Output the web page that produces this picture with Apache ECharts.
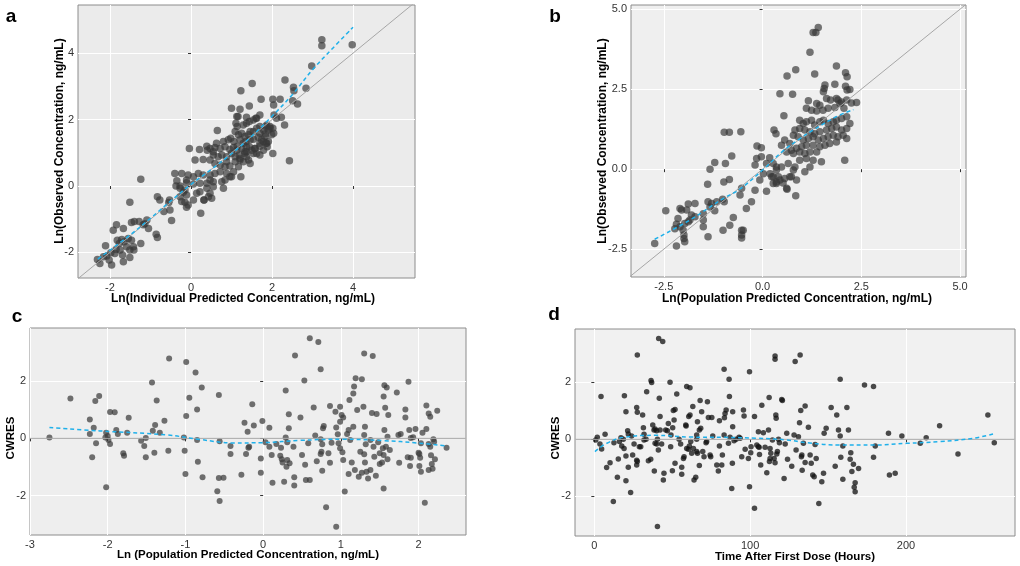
<!DOCTYPE html>
<html><head><meta charset="utf-8">
<script src="https://cdn.jsdelivr.net/npm/echarts@6/dist/echarts.min.js"></script>
<style>html,body{margin:0;padding:0;background:#fff}#c{width:1020px;height:566px}</style>
</head><body><div id="c"></div>
<script>
// ---------- data ----------
const aPoints = [
[3.23,4.40],[3.23,4.22],[3.98,4.25],[2.98,3.61],[2.32,3.19],[1.51,3.09],[2.53,2.97],[2.54,2.87],[2.84,2.94],[1.23,2.87],
[1.73,2.61],[2.02,2.61],[2.20,2.61],[2.51,2.57],[2.63,2.47],[2.04,2.44],[1.00,2.34],[1.21,2.31],[1.44,2.41],[0.65,1.67],
[1.16,2.09],[1.37,2.07],[1.60,2.04],[1.70,2.14],[2.05,2.14],[2.11,2.04],[2.23,2.07],[2.31,1.84],[2.02,1.74],[2.04,1.59],
[2.43,0.76],[2.02,0.98],[1.23,0.28],
[1.13,2.09],[1.11,1.89],[1.14,1.79],[1.29,1.84],[1.37,1.89],[1.44,1.94],[1.54,1.99],[1.62,2.04],
[1.09,1.64],[1.17,1.54],[1.25,1.59],[1.33,1.49],[1.42,1.54],[1.46,1.64],[1.54,1.64],[1.62,1.74],[1.70,1.79],[1.79,1.69],[1.85,1.79],[1.95,1.74],
[0.92,1.39],[0.98,1.44],[1.06,1.34],[1.21,1.39],[1.29,1.29],[1.36,1.34],[1.46,1.39],[1.54,1.41],[1.66,1.47],[1.74,1.39],[1.83,1.49],[1.91,1.34],[1.99,1.54],
[-0.04,1.13],[0.21,1.10],[0.39,1.20],[0.40,1.08],[0.55,1.03],[0.47,1.13],[0.59,1.16],[0.72,1.13],[0.84,1.18],[0.96,1.10],[1.05,1.16],[1.14,1.20],[1.25,1.13],[1.37,1.18],[1.50,1.08],[1.58,1.13],[1.70,1.20],[1.85,1.29],[1.88,1.18],
[0.76,0.93],[0.88,0.88],[1.00,0.98],[1.09,0.88],[1.19,0.93],[1.33,0.98],[1.21,0.83],[1.09,0.73],[0.88,0.73],[0.67,0.88],[0.55,0.93],[0.63,1.29],[0.80,1.34],[1.13,1.08],[1.37,1.03],[1.62,0.98],[1.70,0.93],[1.79,1.08],
[0.10,0.78],[0.30,0.80],[0.47,0.78],[0.59,0.68],[0.72,0.63],[0.84,0.58],[0.96,0.60],[1.17,0.58],[1.29,0.73],[1.42,0.78],[1.46,0.68],[1.05,0.43],
[-0.40,0.38],[-0.23,0.38],[-0.07,0.33],[0.06,0.28],[0.18,0.38],[0.30,0.33],[0.47,0.33],[0.59,0.38],[0.72,0.43],[0.88,0.38],[0.96,0.28],[0.84,0.18],[0.55,0.13],[0.39,0.08],[0.22,0.08],[0.06,0.06],[-0.11,0.10],[-0.27,0.00],
[-1.24,0.20],[-1.51,-0.49],[-0.35,0.16],[-0.11,0.18],[-0.37,0.00],[-0.27,-0.07],[-0.19,-0.19],[-0.11,-0.27],[-0.23,-0.47],[-0.15,-0.49],[-0.07,-0.57],[-0.11,-0.64],[0.06,-0.42],[0.24,-0.82],[0.32,-0.42],[0.43,-0.32],[0.47,-0.22],[0.55,-0.02],
[-0.48,-1.04],[-0.83,-0.32],[-0.77,-0.42],[-0.52,-0.72],[-0.67,-0.77],[-0.86,-1.45],[-0.83,-1.55],[-1.05,-1.28],[-1.18,-1.17],[-1.28,-1.07],[-1.40,-1.07],[-1.47,-1.10],[-1.09,-1.02],[-1.14,-1.14],
[-1.67,-1.28],[-1.92,-1.33],[-1.84,-1.17],[-1.24,-1.73],[-1.47,-1.63],[-1.42,-1.83],[-1.51,-1.93],[-1.41,-1.93],[-1.51,-2.15],[-1.69,-2.08],[-1.67,-2.28],[-1.96,-2.38],[-2.11,-1.80],[-2.31,-2.21],[-2.25,-2.33],[-2.08,-2.11],[-1.98,-2.01],[-1.85,-1.91],[-1.82,-1.63],[-1.77,-1.73],[-1.71,-1.61],[-1.65,-1.68],[-1.55,-1.58],[-2.16,-2.13],[-2.02,-2.23],[-1.88,-2.03],[-1.75,-1.93],[-1.59,-1.83],
[-0.55,-0.50],[-0.53,-0.42],[-0.27,-0.32],[-0.15,-0.12],[0.14,-0.22],[0.22,-0.17],[0.39,-0.07],[0.32,-0.42],[0.51,-0.37],[0.47,0.18],[0.80,-0.07],[0.76,0.13],[1.00,0.28],
[1.21,0.78],[1.37,0.88],[1.54,0.98],[1.33,1.03],[1.44,1.18],[1.58,1.13],[1.70,1.29],[1.79,1.34],[1.87,1.29],[1.70,1.59],[1.83,1.57],[1.91,1.69],[1.87,1.84],[1.95,1.79]
];
const aLowess = [[-2.3,-2.2],[-1.5,-1.47],[-1,-0.97],[-0.5,-0.45],[0,0.05],[0.5,0.5],[1,0.97],[1.5,1.5],[2,2.1],[2.5,2.75],[3,3.5],[3.5,4.15],[4,4.78]];
const aIdentity = [[-2.79,-2.79],[5.53,5.53]];
const aXTicks = [-2,0,2,4];
const aYTicks = [-2,0,2,4];

const bPoints = [
[1.41,4.43],[1.28,4.27],[1.35,4.27],[1.20,3.65],[1.32,2.97],[0.84,3.11],[1.87,3.22],[0.62,2.91],[2.10,3.01],[2.14,2.89],[0.44,2.36],[0.76,2.34],
[1.58,2.63],[1.56,2.52],[1.83,2.65],[2.10,2.59],[2.21,2.49],[2.14,2.47],[1.54,2.42],[1.16,2.14],[1.37,2.05],[1.45,2.00],
[1.62,2.21],[1.72,2.16],[1.87,2.21],[2.00,2.10],[2.13,2.16],[2.25,2.07],[2.38,2.08],[0.54,1.67],[2.08,0.28],[0.84,-0.83],[0.62,-0.63],[0.10,-0.69],[0.35,-0.40],
[0.27,-0.24],[0.19,-0.14],[0.44,-0.34],[0.52,-0.43],[0.69,-0.24],[0.78,-0.03],[0.35,0.07],[0.27,0.18],[0.10,0.18],[0.02,-0.14],[-0.07,-0.34],[-0.19,0.13],[-0.15,0.33],[-0.03,0.39],[-0.14,0.72],[-0.03,0.67],
[-0.19,-0.66],[-0.28,-1.02],[-0.41,-1.23],[-0.53,-0.60],[-0.57,-0.81],[-0.53,-1.91],[-0.53,-2.06],[-0.53,-2.15],[-0.49,-1.91],[-0.55,1.17],[-0.97,1.15],[-0.84,1.15],[-0.78,0.41],[-0.94,0.18],[-1.21,0.21],[-1.33,0.00],
[-0.98,-0.40],[-0.84,-0.32],[-1.39,-0.47],[-1.01,-0.94],[-0.97,-1.02],[-1.16,-1.02],[-1.38,-1.02],[-1.29,-1.07],[-1.33,-1.18],[-1.21,-1.30],[-0.74,-1.51],[-0.83,-1.75],[-1.00,-1.91],[-1.38,-2.11],[-1.50,-1.39],[-1.50,-1.59],[-1.50,-1.80],
[-1.71,-1.07],[-1.88,-1.09],[-2.09,-1.23],[-2.05,-1.28],[-1.92,-1.28],[-2.45,-1.30],[-2.14,-1.54],[-2.18,-1.72],[-2.22,-1.86],[-2.09,-1.80],[-1.97,-1.70],[-1.84,-1.59],[-1.71,-1.49],[-1.80,-1.43],[-1.88,-1.64],
[-2.01,-1.91],[-1.99,-2.06],[-1.99,-2.17],[-1.97,-2.27],[-2.18,-2.40],[-2.73,-2.32],
[1.91,2.16],[1.96,2.05],[2.06,1.90],[1.83,1.93],[1.66,1.90],[1.53,1.84],[1.37,1.82],[1.24,1.84],[1.11,1.90],[0.29,1.22],[0.34,1.11],[0.18,0.36],
[0.94,1.53],[1.03,1.43],[1.11,1.48],[1.24,1.53],[1.32,1.38],[1.45,1.48],[1.54,1.53],[1.66,1.43],[1.79,1.48],[1.87,1.53],[2.00,1.58],[2.13,1.64],[2.21,1.43],[2.13,1.27],[2.00,1.22],[1.87,1.32],[1.75,1.27],[1.62,1.22],[1.45,1.17],[1.32,1.11],[1.20,1.17],[1.07,1.22],[0.94,1.27],[0.82,1.22],
[0.78,1.06],[0.90,1.01],[1.03,0.91],[1.16,0.96],[1.28,1.01],[1.41,0.91],[1.54,0.96],[1.66,1.01],[1.79,1.06],[1.91,1.01],[2.04,1.06],[2.13,0.96],[1.87,0.85],[1.70,0.80],[1.58,0.75],[1.45,0.70],[1.28,0.75],[1.11,0.75],[0.99,0.70],[0.86,0.65],[0.73,0.59],[0.69,0.80],[0.56,0.91],[0.48,0.75],
[0.61,0.54],[0.78,0.49],[0.94,0.54],[1.07,0.49],[1.20,0.54],[1.37,0.54],[1.49,0.23],[1.28,0.28],[1.11,0.33],[0.94,0.28],[0.82,0.07],[0.65,0.18],[0.48,0.07],[0.35,-0.03],[0.40,-0.24],[0.56,-0.29],[0.73,-0.24],[0.86,-0.34],[0.35,-0.45],[0.61,-0.60],[1.07,-0.08],[1.20,0.07],[0.23,-0.24],[0.27,-0.45]
];
const bLowess = [[-2.73,-2.19],[-1.84,-1.59],[-1.0,-0.92],[-0.57,-0.62],[0,-0.03],[0.5,0.55],[0.94,0.95],[1.28,1.22],[1.87,1.64],[2.3,1.86]];
const bIdentity = [[-3.37,-3.37],[5.15,5.15]];
const bXTicks = [-2.5,0,2.5,5];
const bYTicks = [-2.5,0,2.5,5];

const cPoints = [
[-2.75,0.03],[-2.48,1.39],[-2.23,0.66],[-2.18,0.37],[-2.16,1.31],[-2.11,1.48],[-2.23,0.15],[-2.15,-0.17],[-2.20,-0.66],[-2.02,-1.71],
[-2.02,0.20],[-2.00,0.08],[-1.99,-0.06],[-1.97,-0.20],[-2.03,0.03],[-1.97,0.92],[-1.91,0.91],[-1.89,0.29],[-1.87,0.15],[-1.73,0.72],[-1.75,0.20],[-1.80,-0.52],[-1.79,-0.61],
[-1.57,-0.08],[-1.53,-0.27],[-1.51,-0.66],[-1.51,0.01],[-1.43,1.95],[-1.37,1.32],[-1.42,0.27],[-1.39,0.47],[-1.33,0.20],[-1.40,-0.50],[-1.27,0.62],[-1.21,2.79],[-1.22,-0.43],
[-0.99,2.67],[-0.95,1.42],[-0.99,0.78],[-1.02,0.03],[-1.01,-0.43],[-1.00,-1.25],[-0.87,2.30],[-0.85,1.01],[-0.85,-0.06],[-0.84,-0.82],[-0.79,1.78],[-0.78,-1.36],
[-0.57,1.52],[-0.56,-0.10],[-0.59,-1.85],[-0.56,-2.19],[-0.57,-1.39],[-0.51,-1.38],[-0.42,-0.27],[-0.42,-0.55],[-0.28,-1.27],[-0.24,0.55],[-0.22,-0.55],[-0.20,0.23],[-0.19,-0.33],[-0.18,-0.29],[-0.14,1.19],[-0.12,0.45],
[-0.03,-1.20],[-0.03,-0.70],[-0.01,0.61],[0.03,-0.14],[0.08,0.37],[0.08,-0.29],[0.12,-1.55],[0.11,-0.58],[0.17,-0.20],[0.23,-0.33],[0.22,-0.61],[0.24,-0.73],[0.25,-0.84],[0.27,-1.52],[0.29,1.67],[0.29,0.03],
[0.31,-0.14],[0.30,-0.99],[0.31,-0.76],[0.33,0.84],[0.33,0.35],[0.34,-0.87],[0.40,-1.36],[0.40,-1.65],[0.41,2.90],[0.39,-0.29],[0.48,0.73],[0.50,-0.58],[0.53,2.02],[0.54,-0.92],[0.55,-1.46],[0.60,-1.46],
[0.60,3.50],[0.58,-0.17],[0.65,1.08],[0.67,0.10],[0.69,-0.80],[0.74,2.42],[0.74,-0.03],[0.76,-0.21],[0.75,-0.47],[0.74,-0.55],[0.76,-1.13],[0.77,0.35],[0.78,0.43],[0.71,3.37],[0.81,-2.41],
[0.86,1.13],[0.84,-0.52],[0.86,-0.85],[0.88,-0.15],[0.93,0.93],[0.96,0.14],[0.94,0.38],[0.94,-3.09],[0.99,1.11],[1.01,0.82],[1.03,0.73],[0.99,0.58],[0.97,-0.17],[0.99,-0.35],[1.02,-0.49],[1.05,-1.86],[1.03,-0.76],
[1.10,0.29],[1.12,-0.06],[1.08,0.15],[1.11,1.34],[1.16,1.57],[1.17,1.81],[1.14,-0.84],[1.18,-1.11],[1.10,-1.25],[1.19,2.10],[1.27,2.07],[1.21,0.99],[1.16,0.41],[1.25,-0.47],[1.27,-1.20],[1.23,-1.34],
[1.30,2.97],[1.41,2.88],[1.29,1.11],[1.31,0.41],[1.30,0.12],[1.32,-0.21],[1.30,-0.56],[1.31,-0.84],[1.33,-1.17],[1.40,0.89],[1.38,-0.06],[1.42,-0.29],[1.43,-0.64],[1.38,-1.11],[1.35,-1.40],
[1.46,0.85],[1.48,-0.14],[1.50,-0.52],[1.50,-0.90],[1.45,-1.31],[1.56,1.86],[1.55,1.46],[1.57,1.07],[1.56,0.29],[1.54,-0.35],[1.55,-0.58],[1.53,-0.84],[1.58,-0.29],[1.55,-1.75],[1.59,1.78],[1.61,0.82],[1.60,0.06],[1.63,-0.41],[1.60,-0.73],
[1.72,1.60],[1.74,0.12],[1.77,0.15],[1.75,-0.85],[1.83,1.01],[1.83,0.73],[1.86,-0.66],[1.87,1.98],[1.88,0.29],[1.90,0.01],[1.90,-0.68],[1.89,-0.97],[1.96,0.33],[1.93,0.04],
[2.00,-0.50],[2.01,-0.55],[2.02,-0.68],[2.01,-0.97],[2.03,-1.17],[2.05,0.20],[2.03,-0.17],[2.10,0.33],[2.10,1.15],[2.08,-2.25],[2.13,0.87],[2.15,0.76],[2.13,-0.20],[2.15,-0.29],[2.16,-0.59],[2.17,-0.90],[2.18,-1.06],[2.13,-1.11],[2.19,-0.03],[2.20,-0.12],[2.21,-0.73],[2.24,0.97],[2.36,-0.33]
];
const cLowess = [[-2.75,0.38],[-2.1,0.26],[-1.24,0.12],[-0.81,-0.04],[-0.38,-0.16],[0,-0.15],[0.48,-0.07],[1.03,-0.03],[1.55,-0.08],[1.98,-0.16],[2.36,-0.27]];
const cZero = [[-3,0],[2.61,0]];
const cXTicks = [-3,-2,-1,0,1,2];
const cYTicks = [-2,0,2];

const dPoints = [
[0.9,-0.02],[1.9,0.07],[3.6,-0.16],[4.7,-0.34],[4.3,1.50],[6.9,0.18],[7.9,-0.99],[10.1,-0.82],[12.2,-2.18],[12.6,-0.12],[14.8,-1.33],[15.4,-0.69],[16.1,-0.08],[17.1,0.06],[17.6,-0.23],
[18.6,0.00],[19.1,-0.32],[19.3,1.53],[20.3,0.97],[20.3,-0.58],[20.3,-1.45],[21.4,0.30],[21.8,0.19],[21.8,-0.98],[23.3,-1.86],[23.9,0.12],[24.6,-0.55],[25.5,-0.16],[27.2,1.12],[27.6,0.95],[27.6,2.96],
[27.2,-0.73],[27.6,-0.78],[27.2,-0.90],[28.9,-0.26],[29.8,-0.26],[31.0,0.85],[31.5,0.41],[31.9,0.18],[31.9,-0.02],[33.2,0.00],[33.6,1.67],[34.7,-0.75],[36.2,-0.70],[36.8,1.99],[36.4,2.06],
[37.5,0.50],[38.3,0.33],[39.0,0.36],[40.0,0.30],[38.5,-1.11],[39.0,-0.14],[40.0,-0.16],[40.5,-3.06],[41.3,3.54],[40.5,0.00],[41.1,-0.37],[41.7,1.44],[42.2,0.80],[42.2,0.33],[43.2,-0.16],[43.9,3.43],
[44.3,-1.43],[44.7,-1.19],[45.8,0.33],[46.9,0.30],[47.5,0.56],[48.6,2.00],[49.0,-0.26],[49.2,0.15],[50.3,0.41],[50.1,-1.10],[50.7,1.01],[51.8,1.05],[51.2,0.68],[51.8,-0.84],[52.9,1.59],
[54.4,0.00],[55.4,-0.16],[56.1,-0.98],[56.1,-1.22],[57.6,-0.61],[57.2,-0.67],[58.9,0.47],[58.7,0.50],[59.3,-0.32],[60.4,-0.35],[59.3,1.85],[61.4,1.81],[60.6,0.80],[61.4,0.85],[61.0,-0.23],[61.9,-0.08],[62.5,-0.49],
[63.2,1.15],[63.6,-0.32],[64.0,-1.43],[65.1,-1.33],[65.7,0.15],[65.7,0.00],[65.7,-0.43],[66.2,-0.49],[66.2,0.62],[67.4,0.33],[68.3,0.39],[67.4,-0.92],[67.9,1.36],[68.9,0.97],[69.6,-0.43],[70.4,-0.61],
[71.7,-0.12],[72.1,-0.08],[72.6,1.32],[73.2,0.77],[75.4,0.77],[74.3,-0.55],[74.7,-0.61],[76.0,0.12],[78.6,-0.90],[79.6,-1.11],[80.3,0.65],[80.3,-0.23],[81.8,-0.90],[82.2,-0.55],
[83.3,0.15],[83.3,2.46],[83.5,0.76],[83.9,0.91],[84.6,1.03],[86.5,2.11],[86.1,-0.14],[86.7,1.50],[87.1,0.07],[88.2,-1.72],[88.8,0.97],[88.8,0.44],[88.6,-0.84],[89.7,-0.05],[91.0,0.00],
[92.9,0.07],[93.6,0.04],[94.6,-0.61],[95.7,1.03],[96.1,0.82],[96.8,-0.35],[98.9,-0.67],[99.6,2.37],[99.6,-1.66],[100.4,-0.47],[100.6,-0.26],[102.8,0.80],[102.8,-2.42],
[104.3,-0.20],[105.3,-0.26],[105.3,0.27],[106.0,-0.53],[105.8,-0.28],[106.8,-0.90],[107.5,1.20],[108.5,0.23],[109.6,-0.28],[110.7,-1.17],[111.8,0.33],[112.2,1.47],[112.4,-0.78],[112.8,-0.67],[112.8,-0.32],[113.3,-0.49],
[114.3,-0.02],[115.4,-0.67],[116.0,2.92],[116.0,2.81],[116.5,0.85],[116.7,0.74],[116.0,-0.82],[117.1,-0.51],[117.5,-0.43],[118.2,0.00],[118.8,-0.12],[120.3,1.40],[120.7,1.36],[121.8,-1.37],[122.5,-0.16],[123.5,0.21],[124.0,-0.70],
[126.7,-0.94],[128.2,0.15],[128.9,2.73],[129.5,-0.37],[131.0,0.09],[131.7,0.58],[132.1,2.96],[132.5,1.01],[132.9,-0.61],[133.2,-0.55],[133.4,-1.08],[134.2,-0.14],[135.3,1.17],[135.3,-0.81],
[137.4,0.42],[138.5,-0.55],[139.2,-0.84],[140.2,-1.25],[141.1,-1.31],[141.7,-0.18],[142.4,-0.67],[144.1,-2.25],[146.0,-1.49],[147.1,-1.19],[147.5,0.21],[148.8,0.39],
[152.0,1.12],[154.6,-0.94],[155.6,0.85],[156.7,0.33],[157.8,0.12],[157.8,2.11],[158.2,-0.63],[159.5,-1.40],[159.5,-0.23],[162.1,1.12],[163.1,0.33],[164.2,-0.70],[164.6,-0.47],[165.3,-1.13],
[166.3,-0.87],[167.4,-1.52],[166.8,-1.68],[167.4,-1.84],[169.6,-1.02],[173.4,1.91],[179.2,1.85],[179.2,-0.63],[180.3,-0.23],[188.8,0.21],[189.4,-1.25],[193.1,-1.19],[197.4,0.12],
[209.2,-0.14],[213.0,0.06],[221.6,0.48],[233.4,-0.51],[252.6,0.85],[256.7,-0.12]
];
const dLowess = [[0.4,-0.43],[7.9,-0.14],[18.6,0.07],[40,0.14],[61.4,0.08],[82.9,0.07],[104.3,0.04],[123.5,-0.02],[136.4,-0.12],[157.8,-0.2],[179.2,-0.2],[200.6,-0.14],[222,-0.08],[243.4,0.04],[256.7,0.2]];
const dZero = [[-12.4,0],[270,0]];
const dXTicks = [0,100,200];
const dYTicks = [-2,0,2];

// ---------- chart ----------
const FONT = '"Liberation Sans", Arial, sans-serif';
const chart = echarts.init(document.getElementById('c'), null, {renderer: 'canvas'});

function axis(gi, min, max, ticks, fmt) {
  return {
    type: 'value', gridIndex: gi, min: min, max: max,
    axisLine: {show: false},
    axisTick: {show: true, length: 3, customValues: ticks, lineStyle: {color: '#333', width: 1}},
    axisLabel: {show: true, customValues: ticks, color: '#333333', fontSize: 11, fontFamily: FONT, margin: 4,
                formatter: fmt || (v => String(v))},
    splitLine: {show: true, lineStyle: {color: '#ffffff', width: 1}}
  };
}
const f1 = v => v.toFixed(1);

function panelSeries(gi, pts, lowess, ref, size, color) {
  return [
    {type: 'scatter', xAxisIndex: gi, yAxisIndex: gi, data: pts, symbolSize: size,
     itemStyle: {color: color}, silent: true, z: 2},
    {type: 'line', xAxisIndex: gi, yAxisIndex: gi, data: ref, showSymbol: false, silent: true,
     lineStyle: {color: '#a6a6a6', width: 1}, z: 3},
    {type: 'line', xAxisIndex: gi, yAxisIndex: gi, data: lowess, showSymbol: false, smooth: 0.4, silent: true,
     lineStyle: {color: '#1fb0ea', width: 1.5, type: [4, 3]}, z: 4}
  ];
}

function txt(x, y, s, font, rot) {
  return {type: 'text', x: x, y: y, rotation: rot || 0, silent: true,
    style: {text: s, font: font, fill: '#000', align: 'center', verticalAlign: 'middle',
            textAlign: 'center', textVerticalAlign: 'middle'}};
}
const TF = 'bold 12px ' + FONT;
const TF2 = 'bold 11.5px ' + FONT;
const LF = 'bold 19px ' + FONT;

chart.setOption({
  animation: false,
  backgroundColor: '#ffffff',
  grid: [
    {left: 78, top: 5, width: 337, height: 273, show: true, backgroundColor: '#ebebeb', borderColor: '#8c8c8c', borderWidth: 1},
    {left: 631, top: 5, width: 335, height: 272, show: true, backgroundColor: '#efefef', borderColor: '#8c8c8c', borderWidth: 1},
    {left: 30, top: 328, width: 436, height: 207, show: true, backgroundColor: '#eeeeee', borderColor: '#8c8c8c', borderWidth: 1},
    {left: 575, top: 329, width: 440, height: 207, show: true, backgroundColor: '#f1f1f1', borderColor: '#8c8c8c', borderWidth: 1}
  ],
  xAxis: [
    axis(0, -2.79, 5.53, aXTicks),
    axis(1, -3.33, 5.15, bXTicks, f1),
    axis(2, -3, 2.61, cXTicks),
    axis(3, -12.4, 270, dXTicks)
  ],
  yAxis: [
    axis(0, -2.77, 5.45, aYTicks),
    axis(1, -3.37, 5.13, bYTicks, f1),
    axis(2, -3.38, 3.86, cYTicks),
    axis(3, -3.39, 3.87, dYTicks)
  ],
  series: [].concat(
    panelSeries(0, aPoints, aLowess, aIdentity, 7.5, 'rgba(55,55,55,0.85)'),
    panelSeries(1, bPoints, bLowess, bIdentity, 7.5, 'rgba(55,55,55,0.85)'),
    panelSeries(2, cPoints, cLowess, cZero, 6, 'rgba(60,60,60,0.9)'),
    panelSeries(3, dPoints, dLowess, dZero, 5.5, 'rgba(20,20,20,0.95)')
  ),
  graphic: [
    txt(11, 17, 'a', LF), txt(555, 17, 'b', LF), txt(17, 317, 'c', LF), txt(554, 315, 'd', LF),
    txt(243, 299, 'Ln(Individual Predicted Concentration, ng/mL)', TF),
    txt(60, 141, 'Ln(Observed Concentration, ng/mL)', TF, Math.PI / 2),
    txt(797, 299, 'Ln(Population Predicted Concentration, ng/mL)', TF),
    txt(603, 141, 'Ln(Observed Concentration, ng/mL)', TF, Math.PI / 2),
    txt(248, 555, 'Ln (Population Predicted Concentration, ng/mL)', TF2),
    txt(11, 438, 'CWRES', TF2, Math.PI / 2),
    txt(795, 557, 'Time After First Dose (Hours)', TF2),
    txt(556, 438, 'CWRES', TF2, Math.PI / 2)
  ]
});
</script>
</body></html>
